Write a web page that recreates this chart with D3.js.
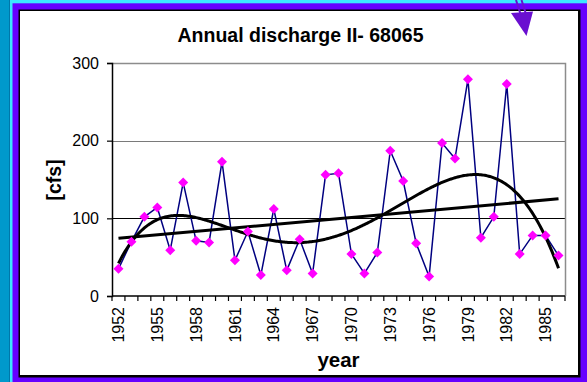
<!DOCTYPE html>
<html>
<head>
<meta charset="utf-8">
<script src="https://cdn.jsdelivr.net/npm/d3@7"></script>
<style>
  html, body { margin: 0; padding: 0; background: #fff; }
  svg { display: block; }
  text { font-family: "Liberation Sans", Arial, sans-serif; fill: #000; }
</style>
</head>
<body>
<svg id="chart" width="587" height="382"></svg>
<script>
// Annual discharge, station II-68065, water years 1952-1986 (cfs)
const years = [1952,1953,1954,1955,1956,1957,1958,1959,1960,1961,1962,1963,1964,1965,1966,1967,1968,1969,
               1970,1971,1972,1973,1974,1975,1976,1977,1978,1979,1980,1981,1982,1983,1984,1985,1986];
const discharge = [35,70,102,114,59,146,71,69,173,46,83,27,112,33,73,29,156,158,
                   54,29,56,187,148,68,25,197,177,279,75,102,273,54,78,78,52];
const yTicks = [0, 100, 200, 300];
const xLabelYears = [1952,1955,1958,1961,1964,1967,1970,1973,1976,1979,1982,1985];
const polyOrder = 6;

const svg = d3.select("#chart");

// slide frame behind the chart
svg.append("rect").attr("x", 0).attr("y", 0).attr("width", 587).attr("height", 382).attr("fill", "#6600ff");
svg.append("rect").attr("x", 0).attr("y", 0).attr("width", 10).attr("height", 382).attr("fill", "#0099cc");
svg.append("rect").attr("x", 9).attr("y", 0).attr("width", 1).attr("height", 382).attr("fill", "#0077aa");
svg.append("rect").attr("x", 10).attr("y", 0).attr("width", 2.5).attr("height", 382).attr("fill", "#3ce6ff");
svg.append("rect").attr("x", 10).attr("y", 0).attr("width", 577).attr("height", 3.3).attr("fill", "#3ce6ff");
svg.append("rect").attr("x", 18.5).attr("y", 9.5).attr("width", 562).attr("height", 368).attr("fill", "#000");
svg.append("rect").attr("x", 20).attr("y", 11).attr("width", 558).attr("height", 364).attr("fill", "#fff");

// arrow pointing into the chart corner
svg.append("path")
  .attr("d", "M516,0 L520.5,14 M521.5,0 L526,14")
  .attr("stroke", "#6a0fd0").attr("stroke-width", 2).attr("fill", "none");
svg.append("path")
  .attr("d", "M511,13 L533,11.5 L526.5,36 Z")
  .attr("fill", "#6a0fd0");

const plot = { left: 112, right: 565, top: 63, bottom: 296 };

const x = d3.scaleBand().domain(years).range([plot.left, plot.right]);
const cx = d => x(d) + x.bandwidth() / 2;
const y = d3.scaleLinear().domain([0, 300]).range([plot.bottom, plot.top]);

// gridlines
svg.append("g").selectAll("line").data(yTicks.filter(t => t > 0 && t < 300)).join("line")
  .attr("x1", plot.left).attr("x2", plot.right)
  .attr("y1", d => Math.round(y(d)) + 0.5).attr("y2", d => Math.round(y(d)) + 0.5)
  .attr("stroke", d => d === 200 ? "#7a7a7a" : "#000").attr("stroke-width", 1);

// plot area border (top and right)
svg.append("path")
  .attr("d", `M${plot.left},${Math.round(y(300)) + 0.5} H${plot.right + 0.5} V${plot.bottom}`)
  .attr("fill", "none").attr("stroke", "#8c8c8c").attr("stroke-width", 1.5);

// y axis
const yAxis = svg.append("g")
  .attr("transform", `translate(${plot.left},0)`)
  .call(d3.axisLeft(y).tickValues(yTicks).tickSize(5).tickPadding(8).tickFormat(d3.format("d")));
yAxis.select(".domain").attr("stroke", "#000").attr("stroke-width", 1.5);
yAxis.selectAll(".tick line").attr("stroke", "#000").attr("stroke-width", 1.2);
yAxis.selectAll(".tick text").attr("font-size", 16).attr("font-family", "Liberation Sans, Arial, sans-serif");

// x axis: tick marks between categories, labels every third year
const boundaries = years.map(d => x(d)).concat([plot.right]);
const xAxis = svg.append("g").attr("transform", `translate(0,${plot.bottom})`);
xAxis.append("line").attr("x1", plot.left).attr("x2", plot.right).attr("y1", 0).attr("y2", 0)
  .attr("stroke", "#000").attr("stroke-width", 1.5);
xAxis.selectAll("line.tk").data(boundaries).join("line").attr("class", "tk")
  .attr("x1", d => d).attr("x2", d => d).attr("y1", 0).attr("y2", 5)
  .attr("stroke", "#000").attr("stroke-width", 1.2);
xAxis.selectAll("text").data(xLabelYears).join("text")
  .attr("transform", d => `translate(${cx(d)},11) rotate(-90)`)
  .attr("text-anchor", "end").attr("dy", "0.35em")
  .attr("font-size", 16)
  .text(d => d);

// least-squares fits of discharge against the category index
function polyFit(xs, ys, order) {
  const n = order + 1;
  const mid = (xs[0] + xs[xs.length - 1]) / 2, half = (xs[xs.length - 1] - xs[0]) / 2;
  const ts = xs.map(v => (v - mid) / half);
  const A = Array.from({ length: n }, () => new Array(n + 1).fill(0));
  ts.forEach((t, k) => {
    for (let i = 0; i < n; i++) {
      for (let j = 0; j < n; j++) A[i][j] += Math.pow(t, i + j);
      A[i][n] += Math.pow(t, i) * ys[k];
    }
  });
  for (let c = 0; c < n; c++) {
    let p = c;
    for (let r = c + 1; r < n; r++) if (Math.abs(A[r][c]) > Math.abs(A[p][c])) p = r;
    [A[c], A[p]] = [A[p], A[c]];
    for (let r = 0; r < n; r++) {
      if (r === c) continue;
      const f = A[r][c] / A[c][c];
      for (let k = c; k <= n; k++) A[r][k] -= f * A[c][k];
    }
  }
  const coef = A.map((row, i) => row[n] / row[i]);
  return v => { const t = (v - mid) / half; return coef.reduce((s, c, i) => s + c * Math.pow(t, i), 0); };
}
const idx = years.map((d, i) => i);
const linear = polyFit(idx, discharge, 1);
const poly = polyFit(idx, discharge, polyOrder);
const xi = d3.scaleLinear().domain([0, years.length - 1]).range([cx(years[0]), cx(years[years.length - 1])]);
const samples = d3.range(0, years.length - 1 + 1e-9, 0.1);

// discharge series
svg.append("path").datum(discharge)
  .attr("fill", "none").attr("stroke", "#000080").attr("stroke-width", 1.5)
  .attr("d", d3.line().x((d, i) => cx(years[i])).y(d => y(d)));

// trend lines
svg.append("path").datum(samples)
  .attr("fill", "none").attr("stroke", "#000").attr("stroke-width", 3)
  .attr("d", d3.line().x(d => xi(d)).y(d => y(poly(d))));
svg.append("path").datum([0, years.length - 1])
  .attr("fill", "none").attr("stroke", "#000").attr("stroke-width", 3)
  .attr("d", d3.line().x(d => xi(d)).y(d => y(linear(d))));

// markers
svg.append("g").selectAll("path").data(discharge).join("path")
  .attr("transform", (d, i) => `translate(${cx(years[i])},${y(d)})`)
  .attr("d", "M0,-5 L5,0 L0,5 L-5,0 Z")
  .attr("fill", "#ff00ff");

// titles
svg.append("text").attr("x", 300.5).attr("y", 42).attr("text-anchor", "middle")
  .attr("font-size", 19.5).attr("font-weight", "bold").text("Annual discharge II- 68065");
svg.append("text").attr("transform", `translate(61,180) rotate(-90)`).attr("text-anchor", "middle")
  .attr("font-size", 19.5).attr("font-weight", "bold").text("[cfs]");
svg.append("text").attr("x", 338.5).attr("y", 367).attr("text-anchor", "middle")
  .attr("font-size", 20.5).attr("font-weight", "bold").text("year");
</script>
</body>
</html>
